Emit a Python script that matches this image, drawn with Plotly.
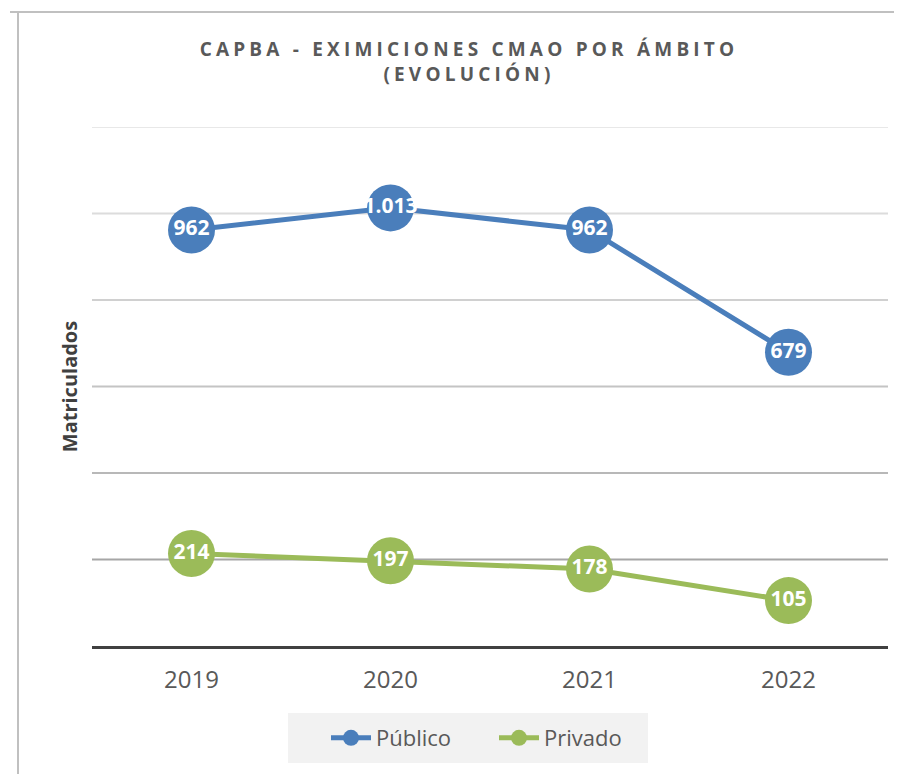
import plotly.graph_objects as go

years = ["2019", "2020", "2021", "2022"]
publico = [962, 1013, 962, 679]
privado = [214, 197, 178, 105]
grid_vals = [200, 400, 600, 800, 1000, 1200]
grid_colors = ["#a6a6a6", "#b8b8b8", "#c4c4c4", "#d0d0d0", "#dcdcdc", "#e8e8e8"]

# page body has an 8px default margin: work in screen pixels, convert to figure pixels
OFF = 8
W, H = 902 - OFF, 774 - OFF
PLOT_L, PLOT_R, PLOT_T, PLOT_B = 92, 888, 127, 646  # screen px
ML, MR, MT, MB = PLOT_L - OFF, 902 - PLOT_R, PLOT_T - OFF, 774 - PLOT_B
PW, PH = PLOT_R - PLOT_L, PLOT_B - PLOT_T


def px_x(p):
    return (p - PLOT_L) / PW


def px_y(p):
    return (PLOT_B - p) / PH


def fmt(v):
    return f"{v:,}".replace(",", ".")


BLUE = "#4a7ebb"
GREEN = "#9bbb59"
FONT = "Open Sans"

fig = go.Figure()
for name, vals, col in [("Público", publico, BLUE), ("Privado", privado, GREEN)]:
    fig.add_trace(go.Scatter(
        x=years, y=vals, name=name, mode="lines+markers+text",
        line=dict(color=col, width=5),
        marker=dict(color=col, size=47),
        text=[fmt(v) for v in vals], textposition="middle center",
        textfont=dict(family=FONT, size=21, color="white", weight="bold"),
        cliponaxis=False,
    ))

shapes = []
for v, c in zip(grid_vals, grid_colors):
    shapes.append(dict(type="line", xref="paper", yref="y", x0=0, x1=1, y0=v, y1=v,
                       line=dict(color=c, width=2), layer="below"))
# outer frame lines
shapes.append(dict(type="line", xref="paper", yref="paper",
                   x0=px_x(18), x1=px_x(18), y0=px_y(12), y1=px_y(780),
                   line=dict(color="#c0c0c0", width=2)))
shapes.append(dict(type="line", xref="paper", yref="paper",
                   x0=px_x(10), x1=px_x(910), y0=px_y(12), y1=px_y(12),
                   line=dict(color="#c0c0c0", width=2)))
# legend background box
shapes.append(dict(type="rect", xref="paper", yref="paper",
                   x0=px_x(288), x1=px_x(648), y0=px_y(713), y1=px_y(763),
                   fillcolor="#f2f2f2", line=dict(width=0), layer="below"))

ls = "letter-spacing:4.2px"
title_text = (f"<span style='{ls}'>CAPBA - EXIMICIONES CMAO POR ÁMBITO</span><br>"
              f"<span style='{ls}'>(EVOLUCIÓN)</span>")

fig.update_layout(
    width=W, height=H,
    margin=dict(l=ML, r=MR, t=MT, b=MB),
    paper_bgcolor="white", plot_bgcolor="white",
    shapes=shapes,
    title=dict(text=title_text, xref="container", yref="container",
               x=(469 - OFF) / W, xanchor="center", y=1 - (56 - OFF) / H, yanchor="middle",
               font=dict(family=FONT, size=19, color="#595959", weight="bold")),
    xaxis=dict(type="category", range=[-0.5, 3.5], showgrid=False,
               showline=True, linecolor="#404040", linewidth=3,
               ticks="", tickfont=dict(family=FONT, size=24, color="#595959"),
               ticklabelstandoff=10, fixedrange=True),
    yaxis=dict(range=[0, 1200], showgrid=False, zeroline=False,
               showticklabels=False, ticks="",
               title=dict(text="Matriculados", standoff=8,
                          font=dict(family=FONT, size=20, color="#404040", weight="bold"))),
    legend=dict(orientation="h", x=px_x(326), xanchor="left",
                y=px_y(738), yanchor="middle", bgcolor="rgba(0,0,0,0)",
                font=dict(family=FONT, size=22, color="#595959"),
                entrywidth=113, entrywidthmode="pixels",
                itemwidth=40, traceorder="normal"),
    showlegend=True,
)

fig.write_html("out.html")
